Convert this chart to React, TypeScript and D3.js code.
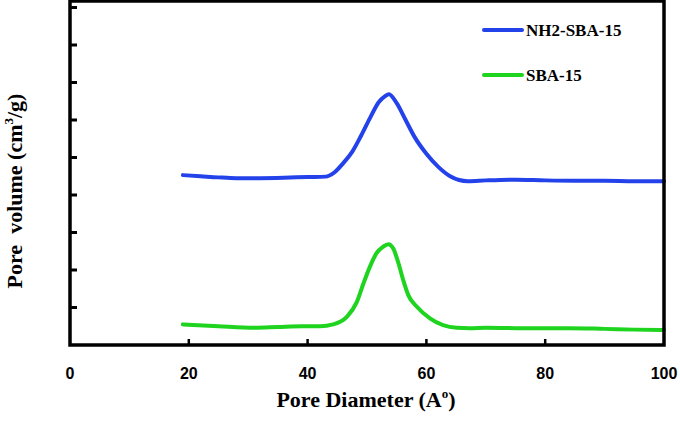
import React, { useEffect, useRef } from 'react';
import * as d3 from 'd3';

// pore diameter (A) and pore volume (arb. units, one unit = one y tick)
const nhX = [19, 22, 25, 28, 32, 36, 40, 43, 44.5, 46, 47.5, 49, 50.5, 52, 53, 53.7, 55, 56.5, 58, 60, 62, 64, 65.5, 67, 70, 75, 80, 85, 90, 95, 100];
const nhY = [4.53, 4.5, 4.47, 4.45, 4.45, 4.46, 4.48, 4.49, 4.6, 4.85, 5.15, 5.58, 6.05, 6.48, 6.63, 6.69, 6.45, 6.0, 5.55, 5.1, 4.75, 4.5, 4.4, 4.37, 4.39, 4.41, 4.39, 4.38, 4.38, 4.37, 4.37];

const sbaX = [19, 25, 31, 35, 39, 42.1, 44.3, 46.6, 48.3, 49.4, 50.5, 51.6, 52.7, 53.6, 54.4, 55.3, 56.1, 56.95, 58.4, 60.6, 62.8, 65.1, 67.3, 70, 75, 84, 90, 95, 100];
const sbaY = [0.55, 0.5, 0.46, 0.48, 0.5, 0.5, 0.55, 0.75, 1.15, 1.64, 2.09, 2.45, 2.62, 2.69, 2.58, 2.18, 1.73, 1.33, 1.02, 0.71, 0.53, 0.46, 0.45, 0.46, 0.45, 0.45, 0.43, 0.41, 0.4];

const xTicks = [0, 20, 40, 60, 80, 100];
const yTicks = [1, 2, 3, 4, 5, 6, 7, 8, 9];

const series = [
  { name: 'NH2-SBA-15', xs: nhX, ys: nhY, color: '#2442ea' },
  { name: 'SBA-15', xs: sbaX, ys: sbaY, color: '#1ed41e' },
];

export default function App() {
  const ref = useRef<SVGSVGElement>(null);

  useEffect(() => {
    const width = 680;
    const height = 425;
    const margin = { top: 1, left: 70, bottom: 80, right: 16 };
    const iwidth = width - margin.left - margin.right;
    const iheight = height - margin.top - margin.bottom;

    const svg = d3.select(ref.current);
    svg.selectAll('*').remove();
    svg.attr('width', width).attr('height', height);

    const g = svg.append('g').attr('transform', `translate(${margin.left},${margin.top})`);

    const x = d3.scaleLinear().domain([0, 100]).range([0, iwidth]);
    const y = d3.scaleLinear().domain([0, 344 / 37.5]).range([iheight, 0]);

    const line = d3
      .line<[number, number]>()
      .x((d) => x(d[0]))
      .y((d) => y(d[1]))
      .curve(d3.curveMonotoneX);

    series.forEach((s) => {
      g.append('path')
        .attr('d', line(s.xs.map((v, i) => [v, s.ys[i]]))!)
        .attr('fill', 'none')
        .attr('stroke', s.color)
        .attr('stroke-width', 4)
        .attr('stroke-linejoin', 'round')
        .attr('stroke-linecap', 'round');
    });

    // inward ticks
    g.selectAll('.ytick')
      .data(yTicks)
      .enter()
      .append('line')
      .attr('x1', 0)
      .attr('x2', 7)
      .attr('y1', (d) => y(d))
      .attr('y2', (d) => y(d))
      .attr('stroke', '#000')
      .attr('stroke-width', 3);

    g.selectAll('.xtick')
      .data(xTicks.slice(1, -1))
      .enter()
      .append('line')
      .attr('x1', (d) => x(d))
      .attr('x2', (d) => x(d))
      .attr('y1', iheight)
      .attr('y2', iheight - 6)
      .attr('stroke', '#000')
      .attr('stroke-width', 2.5);

    g.append('rect')
      .attr('width', iwidth)
      .attr('height', iheight)
      .attr('fill', 'none')
      .attr('stroke', '#000')
      .attr('stroke-width', 3.5);

    g.selectAll('.xlabel')
      .data(xTicks)
      .enter()
      .append('text')
      .attr('x', (d) => x(d))
      .attr('y', iheight + 34)
      .attr('text-anchor', 'middle')
      .style('font-family', '"Liberation Sans", Arial, sans-serif')
      .style('font-weight', 'bold')
      .style('font-size', '16px')
      .text((d) => d);

    const xt = g
      .append('text')
      .attr('x', iwidth / 2 - 1)
      .attr('y', iheight + 62)
      .attr('text-anchor', 'middle')
      .style('font-family', '"Liberation Serif", "Times New Roman", serif')
      .style('font-weight', 'bold')
      .style('font-size', '22px');
    xt.append('tspan').text('Pore Diameter (A');
    xt.append('tspan').attr('dy', -9).style('font-size', '13px').text('o');
    xt.append('tspan').attr('dy', 9).text(')');

    const yt = svg
      .append('text')
      .attr('transform', `translate(22,191) rotate(-90)`)
      .attr('text-anchor', 'middle')
      .attr('xml:space', 'preserve')
      .style('white-space', 'pre')
      .style('font-family', '"Liberation Serif", "Times New Roman", serif')
      .style('font-weight', 'bold')
      .style('font-size', '22px');
    yt.append('tspan').text('Pore  volume (cm');
    yt.append('tspan').attr('dy', -9).style('font-size', '13px').text('3');
    yt.append('tspan').attr('dy', 9).text('/g)');

    // legend
    series.forEach((s, i) => {
      const ly = 30 + i * 45;
      svg.append('line')
        .attr('x1', 484)
        .attr('x2', 522)
        .attr('y1', ly)
        .attr('y2', ly)
        .attr('stroke', s.color)
        .attr('stroke-width', 4)
        .attr('stroke-linecap', 'round');
      svg.append('text')
        .attr('x', 526)
        .attr('y', ly + 6)
        .style('font-family', '"Liberation Serif", "Times New Roman", serif')
        .style('font-weight', 'bold')
        .style('font-size', '17px')
        .text(s.name);
    });
  }, []);

  return (
    <div style={{ position: 'absolute', left: 0, top: 0 }}>
      <svg ref={ref}></svg>
    </div>
  );
}
